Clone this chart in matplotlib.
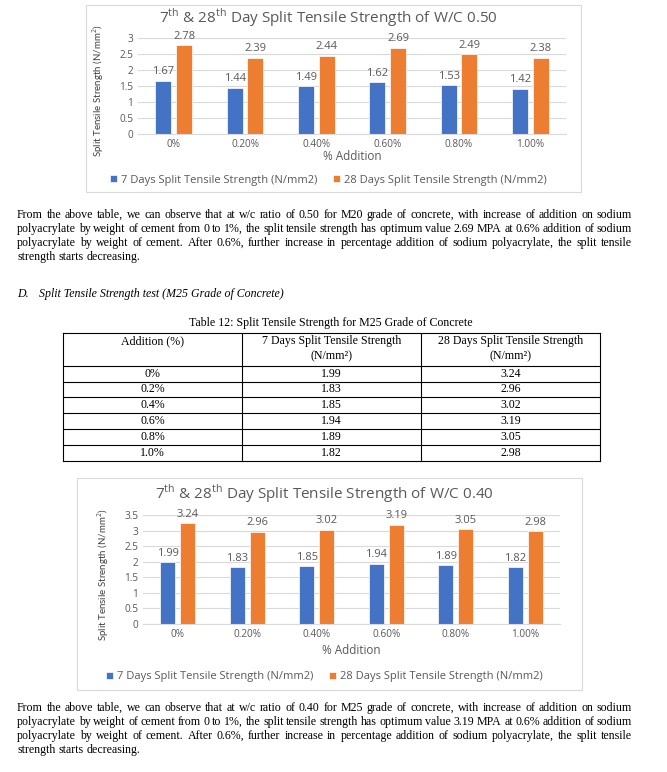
import numpy as np
import matplotlib
matplotlib.use('Agg')
import matplotlib.pyplot as plt
from matplotlib.patches import Rectangle

W, H = 667, 772

# chart data
additions = ['0%', '0.20%', '0.40%', '0.60%', '0.80%', '1.00%']
wc50_7day = [1.67, 1.44, 1.49, 1.62, 1.53, 1.42]
wc50_28day = [2.78, 2.39, 2.44, 2.69, 2.49, 2.38]
wc40_7day = [1.99, 1.83, 1.85, 1.94, 1.89, 1.82]
wc40_28day = [3.24, 2.96, 3.02, 3.19, 3.05, 2.98]
table_additions = ['0%', '0.2%', '0.4%', '0.6%', '0.8%', '1.0%']

BLUE = '#4472C4'
ORANGE = '#ED7D31'
GREY = '#595959'
GRID = '#D9D9D9'
SERIF = 'Liberation Serif'
CHART = 'Open Sans'

plt.rcParams['mathtext.fontset'] = 'custom'
plt.rcParams['mathtext.rm'] = CHART

fig = plt.figure(figsize=(W / 100, H / 100), dpi=100)
bg = fig.add_axes([0, 0, 1, 1])
bg.set_xlim(0, W)
bg.set_ylim(H, 0)
bg.axis('off')
rend = fig.canvas.get_renderer()


def axes_px(x0, y0, x1, y1):
    return fig.add_axes([x0 / W, 1 - y1 / H, (x1 - x0) / W, (y1 - y0) / H])


def bar_chart(box, plot, title, s7, s28, ymax, title_y, xlab_y, leg_y, ylab_x):
    bx0, by0, bx1, by1 = box
    bg.add_patch(Rectangle((bx0, by0), bx1 - bx0, by1 - by0, fill=False, ec=GRID, lw=0.8))
    ax = axes_px(*plot)
    idx = np.arange(len(additions))
    b1 = ax.bar(idx - 0.145, s7, 0.22, color=BLUE, ec='white', lw=0.5,
                label='7 Days Split Tensile Strength (N/mm2)')
    b2 = ax.bar(idx + 0.145, s28, 0.22, color=ORANGE, ec='white', lw=0.5,
                label='28 Days Split Tensile Strength (N/mm2)')
    for bars, vals in ((b1, s7), (b2, s28)):
        for b, v in zip(bars, vals):
            ax.annotate(f'{v:.2f}', (b.get_x() + b.get_width() / 2, v), xytext=(0, 2.5),
                        textcoords='offset points', ha='center', va='bottom',
                        fontsize=8, color=GREY, family=CHART)
    ax.set_xlim(-0.5, 5.5)
    ax.set_ylim(0, ymax)
    yt = np.arange(0, ymax + 0.01, 0.5)
    ax.set_yticks(yt, [f'{t:g}' for t in yt])
    ax.set_xticks(idx, additions)
    ax.grid(axis='y', color=GRID, lw=0.8)
    ax.set_axisbelow(True)
    for s in ['top', 'right', 'left']:
        ax.spines[s].set_visible(False)
    ax.spines['bottom'].set_color(GRID)
    ax.tick_params(length=0, labelsize=7.2, labelcolor=GREY, pad=3.5)
    for lab in ax.get_xticklabels() + ax.get_yticklabels():
        lab.set_family(CHART)
    ax.patch.set_alpha(0)

    cx = (plot[0] + plot[2]) / 2
    tx = (bx0 + bx1) / 2 - 5
    bg.text(tx, title_y, title, ha='center', va='center',
            fontsize=11, color=GREY, family=CHART)
    bg.text(cx, xlab_y, '% Addition', ha='center', va='center',
            fontsize=8.5, color=GREY, family=CHART)
    bg.text(ylab_x, (plot[1] + plot[3]) / 2 + 5, 'Split Tensile Strength (N/mm$^2$)',
            rotation=90, ha='center', va='center', fontsize=7, color='#404040', family='Lato')
    fig.legend(handles=[b1, b2], loc='center', bbox_to_anchor=(tx / W, 1 - leg_y / H),
               ncol=2, frameon=False, handlelength=0.6, handleheight=0.6, handletextpad=0.4,
               columnspacing=1.4, prop={'family': CHART, 'size': 8}, labelcolor=GREY)


def justified(lines, x0, x1, y, dy, size, style='normal'):
    for i, line in enumerate(lines):
        words = line.split()
        texts = [bg.text(0, y + i * dy, w, fontsize=size, family=SERIF, style=style,
                         va='center', ha='left') for w in words]
        widths = [t.get_window_extent(rend).width for t in texts]
        if i == len(lines) - 1 or len(words) < 2:
            gap = 0.25 * size * 100 / 72
        else:
            gap = (x1 - x0 - sum(widths)) / (len(words) - 1)
        x = x0
        for t, w in zip(texts, widths):
            t.set_x(x)
            x += w + gap


# chart 1
bar_chart((86, 5, 581, 192), (138, 38, 566, 134),
          r'7$^{\mathrm{th}}$ & 28$^{\mathrm{th}}$ Day Split Tensile Strength of W/C 0.50',
          wc50_7day, wc50_28day, 3.0, 18, 157, 180, 98)

para1 = [
    'From the above table, we can observe that at w/c ratio of 0.50 for M20 grade of concrete, with increase of addition on sodium',
    'polyacrylate by weight of cement from 0 to 1%, the split tensile strength has optimum value 2.69 MPA at 0.6% addition of sodium',
    'polyacrylate by weight of cement. After 0.6%, further increase in percentage addition of sodium polyacrylate, the split tensile',
    'strength starts decreasing.',
]
justified(para1, 17, 632, 215, 14, 8.6)

bg.text(17, 294, 'D.', fontsize=8.6, family=SERIF, style='italic', va='center')
bg.text(39, 294, 'Split Tensile Strength test (M25 Grade of Concrete)', fontsize=8.6,
        family=SERIF, style='italic', va='center')

# table
bg.text(331, 323, 'Table 12: Split Tensile Strength for M25 Grade of Concrete', fontsize=8.6,
        family=SERIF, ha='center', va='center')
cols = [63, 242, 421, 600]
rows = [333, 366, 382, 397, 413, 429, 445, 461]
for yy in rows:
    bg.plot([cols[0], cols[-1]], [yy, yy], color='black', lw=0.8)
for xx in cols:
    bg.plot([xx, xx], [rows[0], rows[-1]], color='black', lw=0.8)
hdr = [['Addition (%)'], ['7 Days Split Tensile Strength', '(N/mm\u00b2)'],
       ['28 Days Split Tensile Strength', '(N/mm\u00b2)']]
for c, lines in enumerate(hdr):
    for k, s in enumerate(lines):
        bg.text((cols[c] + cols[c + 1]) / 2, 341 + 15 * k, s, fontsize=8.6, family=SERIF,
                ha='center', va='center')
for r, (a, v7, v28) in enumerate(zip(table_additions, wc40_7day, wc40_28day)):
    yc = (rows[r + 1] + rows[r + 2]) / 2
    for c, s in enumerate([a, f'{v7:.2f}', f'{v28:.2f}']):
        bg.text((cols[c] + cols[c + 1]) / 2, yc, s, fontsize=8.6, family=SERIF,
                ha='center', va='center')

# chart 2
bar_chart((77, 478, 582, 690), (143, 515, 560, 624),
          r'7$^{\mathrm{th}}$ & 28$^{\mathrm{th}}$ Day Split Tensile Strength of W/C 0.40',
          wc40_7day, wc40_28day, 3.5, 494, 650, 677, 103)

para2 = [
    'From the above table, we can observe that at w/c ratio of 0.40 for M25 grade of concrete, with increase of addition on sodium',
    'polyacrylate by weight of cement from 0 to 1%, the split tensile strength has optimum value 3.19 MPA at 0.6% addition of sodium',
    'polyacrylate by weight of cement. After 0.6%, further increase in percentage addition of sodium polyacrylate, the split tensile',
    'strength starts decreasing.',
]
justified(para2, 17, 632, 708, 14, 8.6)

fig.savefig('out.png', dpi=100)
